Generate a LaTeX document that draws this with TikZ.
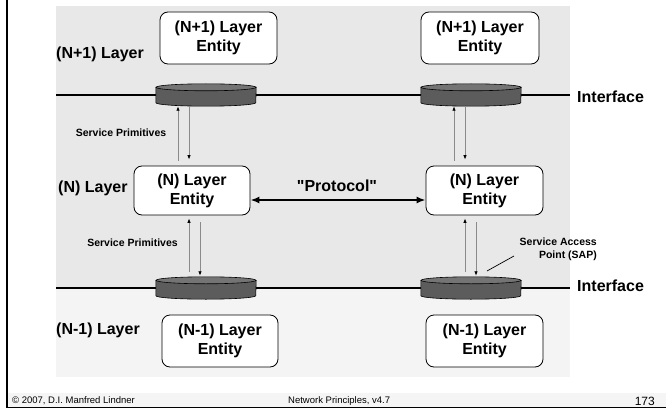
\documentclass[tikz,border=0pt]{standalone}
\usepackage{fontspec}
\setmainfont{Liberation Sans}
\newfontfamily\qfont{Liberation Sans}
\usetikzlibrary{arrows.meta,calc}
\definecolor{panelup}{HTML}{E8E8E8}
\definecolor{panellow}{HTML}{F4F4F4}
\definecolor{footbg}{HTML}{F5F5F5}
\definecolor{sapbody}{HTML}{5C5C5C}
\definecolor{saptop}{HTML}{747474}
\definecolor{primgray}{HTML}{8A8A8A}
\newcommand\drawsap[1]{%
  \filldraw[fill=sapbody, draw=black, line width=0.6pt]
    ($(#1.north west)+(0,3.5)$) -- ($(#1.south west)+(0,-3.5)$)
    arc[start angle=180, end angle=360, x radius=50pt, y radius=3.5pt]
    -- ($(#1.north east)+(0,3.5)$) -- cycle;
  \filldraw[fill=saptop, draw=black, line width=0.6pt]
    ($(#1.north)+(0,3.5)$) ellipse [x radius=50pt, y radius=3.5pt];
}
\begin{document}
\begin{tikzpicture}[x=1pt,y=-1pt,
  ent/.style={draw=black, line width=0.8pt, rounded corners=8pt, fill=white,
    align=center, font=\fontsize{16}{19}\selectfont\bfseries, inner sep=0pt},
  big/.style={font=\fontsize{16}{19}\selectfont\bfseries, inner sep=0pt},
  small/.style={font=\fontsize{10.5}{12.5}\selectfont\bfseries, inner sep=0pt},
  foot/.style={font=\fontsize{9.5}{11}\selectfont, inner sep=0pt},
  sapnode/.style={inner sep=0pt, minimum width=100pt, minimum height=22pt},
  prim/.style={draw=primgray, line width=0.8pt, -{Latex[length=4.5pt,width=3.5pt,color=black]}},
  iface/.style={line width=2pt, draw=black},
]
\useasboundingbox (0,0) rectangle (666,409);
% panels
\fill[panelup] (56,6) rectangle (570,288);
\fill[panellow] (56,288) rectangle (570,377);
\fill[footbg] (7,393) rectangle (666,407);
\draw[line width=1.5pt] (7,0) -- (7,407.5) -- (666,407.5);

% interface lines
\coordinate (il1) at (56,95);
\coordinate (ir1) at (570,95);
\coordinate (il2) at (56,288);
\coordinate (ir2) at (570,288);
\draw[iface] (il1) -- (ir1);
\draw[iface] (il2) -- (ir2);

% SAP cylinders
\node[sapnode] (s1) at (206,95) {};
\node[sapnode] (s2) at (471,95) {};
\node[sapnode] (s3) at (206,288) {};
\node[sapnode] (s4) at (471,288) {};
\drawsap{s1}\drawsap{s2}\drawsap{s3}\drawsap{s4}

% entities
\node[ent, minimum width=117pt, minimum height=52pt] (tl) at (218.5,38) {(N+1) Layer\\Entity};
\node[ent, minimum width=118pt, minimum height=52pt] (tr) at (480,38) {(N+1) Layer\\Entity};
\node[ent, minimum width=116pt, minimum height=49pt] (nl) at (192,190.5) {(N) Layer\\Entity};
\node[ent, minimum width=117pt, minimum height=49pt] (nr) at (484.5,190.5) {(N) Layer\\Entity};
\node[ent, minimum width=116pt, minimum height=52pt] (bl) at (220,341) {(N-1) Layer\\Entity};
\node[ent, minimum width=117pt, minimum height=52pt] (br) at (484.5,341) {(N-1) Layer\\Entity};

% layer labels
\node[big, anchor=west] (l1) at (56,54) {(N+1) Layer};
\node[big, anchor=west] (l2) at (58,188) {(N) Layer};
\node[big, anchor=west] (l3) at (56,330) {(N-1) Layer};

% interface labels
\node[big, anchor=west] (if1) at (577,97) {Interface};
\node[big, anchor=west] (if2) at (577,286) {Interface};

% service primitives (upper)
\coordinate (a1) at ([xshift=-14pt,yshift=5pt]nl.north);
\coordinate (a2) at ([xshift=-3pt,yshift=6pt]nl.north);
\draw[prim] (a1) -- (a1 |- s1.south);
\draw[prim] (a2 |- s1.south) -- (a2);
\coordinate (a3) at ([xshift=-30.5pt,yshift=5pt]nr.north);
\coordinate (a4) at ([xshift=-19.5pt,yshift=6pt]nr.north);
\draw[prim] (a3) -- (a3 |- s2.south);
\draw[prim] (a4 |- s2.south) -- (a4);

% service primitives (lower)
\coordinate (b1) at ([xshift=-3pt,yshift=-3pt]nl.south);
\coordinate (b2) at ([xshift=8pt,yshift=-7pt]nl.south);
\coordinate (b1s) at (b1 |- s3.north);
\coordinate (b2s) at (b2 |- s3.north);
\draw[prim] ([yshift=5pt]b1s) -- (b1);
\draw[prim] (b2) -- ([yshift=1pt]b2s);
\coordinate (c1) at ([xshift=-19.5pt,yshift=-3pt]nr.south);
\coordinate (c2) at ([xshift=-8.5pt,yshift=-7pt]nr.south);
\coordinate (c1s) at (c1 |- s4.north);
\coordinate (c2s) at (c2 |- s4.north);
\draw[prim] ([yshift=5pt]c1s) -- (c1);
\draw[prim] (c2) -- ([yshift=1pt]c2s);

\node[small] (sp1) at (121,133) {Service Primitives};
\node[small] (sp2) at (132.5,243) {Service Primitives};

% protocol
\draw[line width=2pt, {Latex[length=9pt,width=7pt]}-{Latex[length=9pt,width=7pt]}]
  ([yshift=-9.5pt]nl.east) -- ([yshift=-9.5pt]nr.west);
\node[big] (prot) at (337,186) {\qfont\bfseries "Protocol"};

% SAP label
\node[small, align=right, anchor=east] (sapl) at (597,249.5) {Service Access\\Point (SAP)};
\coordinate (p1) at (487,271);
\coordinate (p2) at (514,256);
\draw[line width=0.7pt] (p1) -- (p2);

% footer
\node[foot, anchor=west] (f1) at (12,401) {© 2007, D.I. Manfred Lindner};
\node[foot, anchor=west] (f2) at (288,401) {Network Principles, v4.7};
\node[font=\fontsize{12}{13}\selectfont, inner sep=0pt, anchor=east] (f3) at (655,401) {173};
\end{tikzpicture}
\end{document}
